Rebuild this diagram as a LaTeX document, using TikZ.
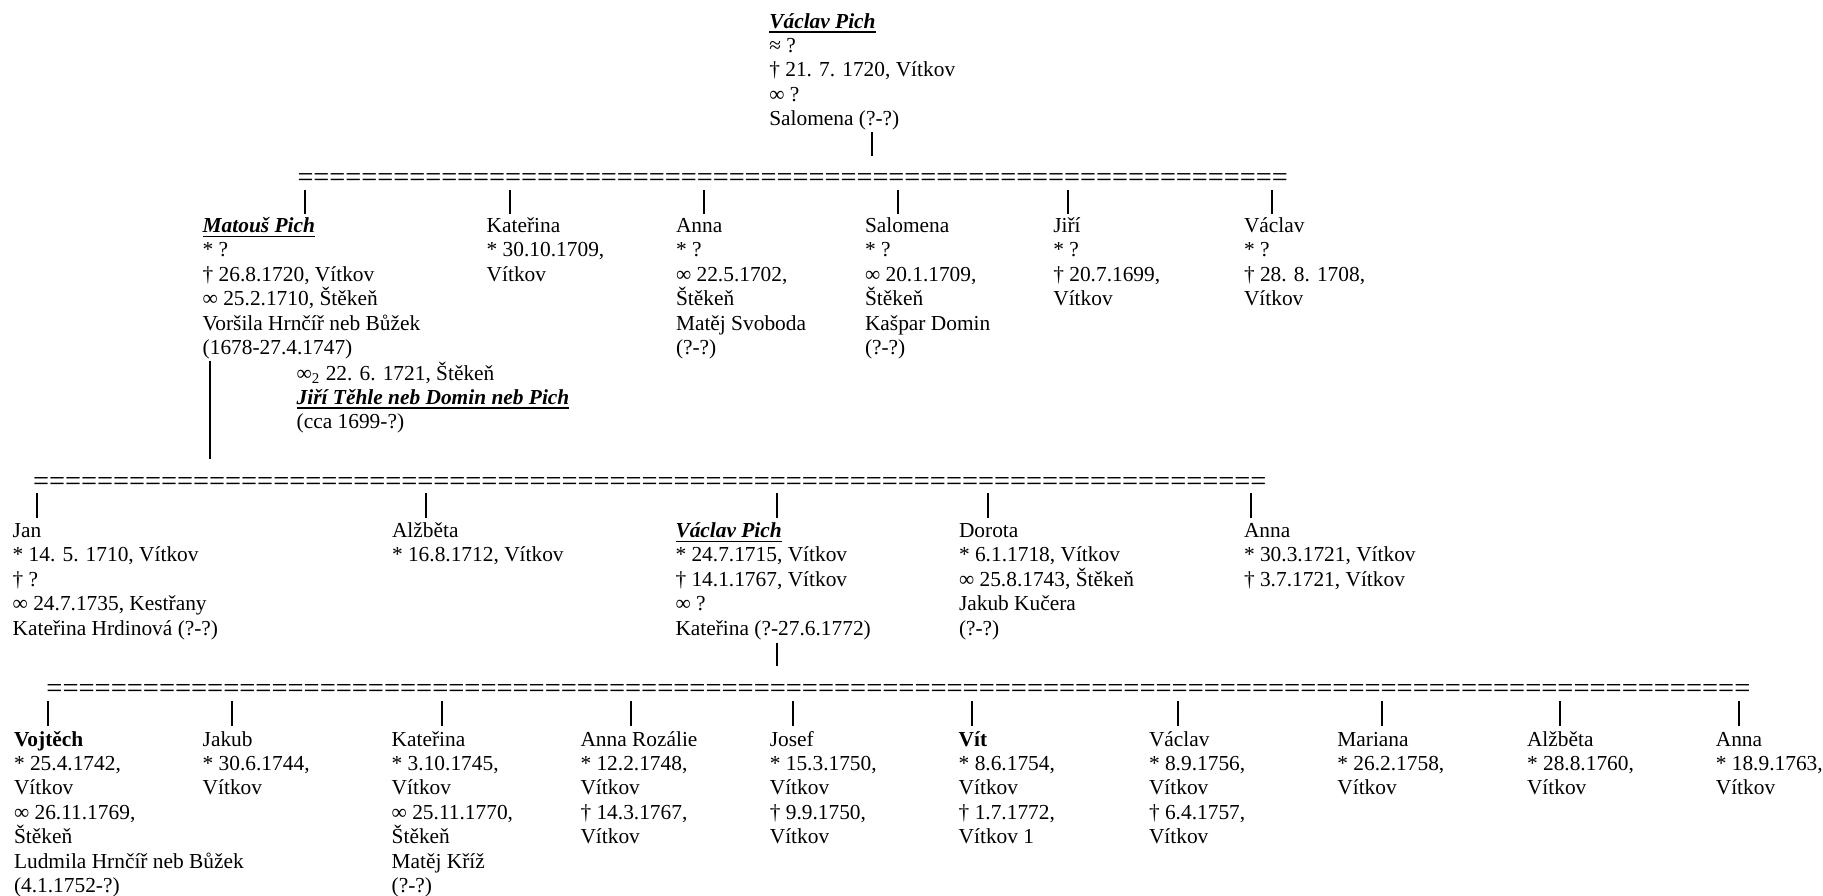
\documentclass[tikz,border=0pt]{standalone}
\usepackage{fontspec}
\setmainfont{Liberation Serif}
\newcommand\pf{\fontsize{10.69pt}{12.2pt}\selectfont}
\newcommand\ef{\fontsize{14.2pt}{16pt}\selectfont}
\newcommand\fs{\rule{0pt}{10pt}}
\newcommand\ulbi[1]{\setbox0\hbox{\bfseries\itshape #1}\rlap{\rule[-2.3pt]{\wd0}{0.8pt}}\box0}
\newcount\eqcnt
\newcommand\eqline[1]{\eqcnt=0 \loop\ifnum\eqcnt<#1 =\advance\eqcnt by 1 \repeat}
\tikzset{
  person/.style={anchor=north west, inner sep=0pt, outer sep=0pt, align=left, font=\pf},
  eqrow/.style={anchor=base west, inner sep=0pt, outer sep=0pt, font=\ef},
  bar/.style={line width=1pt, line cap=butt}
}
\begin{document}
\begin{tikzpicture}[x=0.5pt, y=-0.5pt]
\useasboundingbox (0,0) rectangle (1823,895);
% generation 0
\node[person] (vp1) at (769.3,8) {\fs\ulbi{Václav Pich}\\≈ ?\\† 21. 7. 1720, Vítkov\\∞ ?\\Salomena (?-?)};
\node[eqrow, font=\fontsize{14.16pt}{16pt}\selectfont] (eq1) at (297.5,186) {\eqline{62}};
\draw[bar] (vp1.north west) ++(102.7,124) -- ++(0,24);
% generation 1
\node[person] (matous) at (202.7,212.5) {\fs\ulbi{Matouš Pich}\\* ?\\† 26.8.1720, Vítkov\\∞ 25.2.1710, Štěkeň\\Voršila Hrnčíř neb Bůžek\\(1678-27.4.1747)};
\node[person] (mar2) at (296.7,360) {\fs∞\textsubscript{2} 22. 6. 1721, Štěkeň\\\ulbi{Jiří Těhle neb Domin neb Pich}\\(cca 1699-?)};
\node[person] (k1) at (486.7,212.5) {\fs Kateřina\\* 30.10.1709,\\Vítkov};
\node[person] (a1) at (676,212.5) {\fs Anna\\* ?\\∞ 22.5.1702,\\Štěkeň\\Matěj Svoboda\\(?-?)};
\node[person] (s1) at (865,212.5) {\fs Salomena\\* ?\\∞ 20.1.1709,\\Štěkeň\\Kašpar Domin\\(?-?)};
\node[person] (j1) at (1053.3,212.5) {\fs Jiří\\* ?\\† 20.7.1699,\\Vítkov};
\node[person] (v1) at (1244,212.5) {\fs Václav\\* ?\\† 28. 8. 1708,\\Vítkov};
\foreach \n/\d in {matous/101.8, k1/23.3, a1/28.3, s1/33.3, j1/14.4, v1/28.3}
  \draw[bar] (\n.north west) ++(\d,1.5) -- ++(0,-24);
\draw[bar] (matous.north west) ++(7.3,148.2) -- ++(0,98.6);
% generation 2
\node[eqrow] (eq2) at (33,490.5) {\eqline{77}};
\node[person] (jan) at (12.7,517.5) {\fs Jan\\* 14. 5. 1710, Vítkov\\† ?\\∞ 24.7.1735, Kestřany\\Kateřina Hrdinová (?-?)};
\node[person] (al2) at (392,517.5) {\fs Alžběta\\* 16.8.1712, Vítkov};
\node[person] (vp2) at (675.5,517.5) {\fs\ulbi{Václav Pich}\\* 24.7.1715, Vítkov\\† 14.1.1767, Vítkov\\∞ ?\\Kateřina (?-27.6.1772)};
\node[person] (do2) at (959,517.5) {\fs Dorota\\* 6.1.1718, Vítkov\\∞ 25.8.1743, Štěkeň\\Jakub Kučera\\(?-?)};
\node[person] (an2) at (1244,517.5) {\fs Anna\\* 30.3.1721, Vítkov\\† 3.7.1721, Vítkov};
\foreach \n/\d in {jan/24, al2/34, vp2/101.2, do2/29, an2/6.7}
  \draw[bar] (\n.north west) ++(\d,0.5) -- ++(0,-25);
\draw[bar] (vp2.north west) ++(101.2,125.5) -- ++(0,23);
% generation 3
\node[eqrow, font=\fontsize{14.25pt}{16pt}\selectfont] (eq3) at (46.5,697.5) {\eqline{106}};
\node[person] (r1) at (14,726) {\fs\textbf{Vojtěch}\\* 25.4.1742,\\Vítkov\\∞ 26.11.1769,\\Štěkeň\\Ludmila Hrnčíř neb Bůžek\\(4.1.1752-?)};
\node[person] (r2) at (202.7,726) {\fs Jakub\\* 30.6.1744,\\Vítkov};
\node[person] (r3) at (391.7,726) {\fs Kateřina\\* 3.10.1745,\\Vítkov\\∞ 25.11.1770,\\Štěkeň\\Matěj Kříž\\(?-?)};
\node[person] (r4) at (580.5,726) {\fs Anna Rozálie\\* 12.2.1748,\\Vítkov\\† 14.3.1767,\\Vítkov};
\node[person] (r5) at (769.8,726) {\fs Josef\\* 15.3.1750,\\Vítkov\\† 9.9.1750,\\Vítkov};
\node[person] (r6) at (958.7,726) {\fs\textbf{Vít}\\* 8.6.1754,\\Vítkov\\† 1.7.1772,\\Vítkov 1};
\node[person] (r7) at (1149,726) {\fs Václav\\* 8.9.1756,\\Vítkov\\† 6.4.1757,\\Vítkov};
\node[person] (r8) at (1337.4,726) {\fs Mariana\\* 26.2.1758,\\Vítkov};
\node[person] (r9) at (1527,726) {\fs Alžběta\\* 28.8.1760,\\Vítkov};
\node[person] (r10) at (1715.8,726) {\fs Anna\\* 18.9.1763,\\Vítkov};
\foreach \n/\d in {r1/33.7, r2/29.6, r3/50.6, r4/50.4, r5/23.5, r6/13, r7/28.5, r8/44.5, r9/33, r10/23}
  \draw[bar] (\n.north west) ++(\d,0) -- ++(0,-25);
\end{tikzpicture}
\end{document}
